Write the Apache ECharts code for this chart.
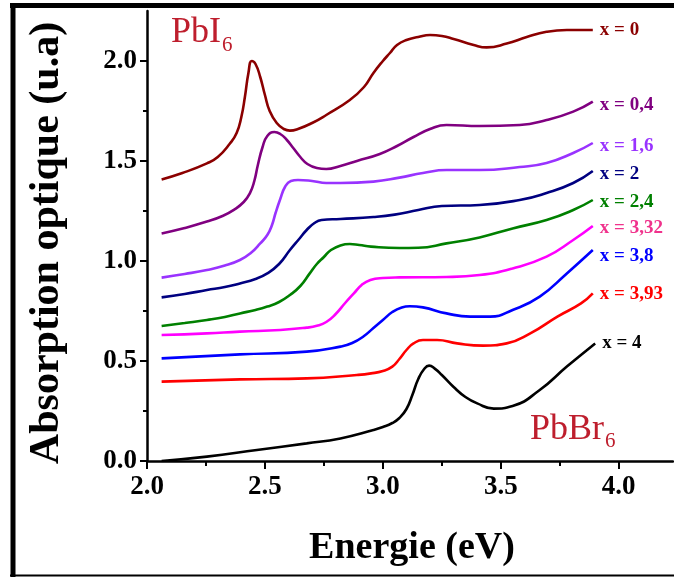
<!DOCTYPE html>
<html>
<head>
<meta charset="utf-8">
<script src="https://cdn.jsdelivr.net/npm/echarts@6/dist/echarts.min.js"></script>
<style>html,body{margin:0;padding:0;background:#fff}#c{width:674px;height:578px}</style>
</head>
<body>
<div id="c"></div>
<script>
// Series names (composition x)
const seriesNames = ['x = 0', 'x = 0,4', 'x = 1,6', 'x = 2', 'x = 2,4', 'x = 3,32', 'x = 3,8', 'x = 3,93', 'x = 4'];

// [Energie (eV), Absorption (u.a)]
const s_x0 = [[2.062,1.408],[2.15,1.44],[2.254,1.488],[2.30,1.52],[2.35,1.585],[2.38,1.64],[2.40,1.72],[2.415,1.82],[2.43,1.94],[2.444,2.0],[2.46,1.985],[2.48,1.92],[2.50,1.83],[2.52,1.75],[2.55,1.69],[2.58,1.66],[2.606,1.652],[2.64,1.66],[2.70,1.69],[2.76,1.73],[2.86,1.805],[2.92,1.87],[2.96,1.94],[3.0,2.0],[3.03,2.04],[3.06,2.08],[3.10,2.105],[3.15,2.12],[3.2,2.13],[3.25,2.125],[3.30,2.11],[3.385,2.08],[3.44,2.068],[3.525,2.087],[3.61,2.12],[3.694,2.146],[3.78,2.155],[3.89,2.155]];
const s_x04 = [[2.062,1.138],[2.16,1.165],[2.254,1.197],[2.32,1.225],[2.37,1.257],[2.41,1.295],[2.436,1.338],[2.455,1.40],[2.47,1.48],[2.49,1.57],[2.51,1.625],[2.54,1.645],[2.565,1.635],[2.593,1.605],[2.62,1.565],[2.65,1.52],[2.68,1.485],[2.72,1.465],[2.76,1.46],[2.82,1.475],[2.89,1.50],[2.987,1.535],[3.06,1.575],[3.13,1.62],[3.20,1.66],[3.27,1.68],[3.41,1.675],[3.58,1.68],[3.694,1.705],[3.807,1.747],[3.89,1.797]];
const s_x16 = [[2.062,0.917],[2.16,0.935],[2.254,0.955],[2.33,0.977],[2.394,1.005],[2.44,1.04],[2.48,1.088],[2.51,1.13],[2.53,1.18],[2.545,1.24],[2.565,1.31],[2.585,1.37],[2.61,1.40],[2.64,1.405],[2.70,1.40],[2.76,1.39],[2.82,1.39],[2.96,1.397],[3.07,1.417],[3.17,1.44],[3.27,1.455],[3.41,1.455],[3.58,1.47],[3.694,1.49],[3.807,1.54],[3.89,1.59]];
const s_x2 = [[2.062,0.818],[2.16,0.835],[2.254,0.855],[2.33,0.87],[2.394,0.888],[2.46,0.91],[2.51,0.938],[2.56,0.985],[2.606,1.055],[2.645,1.11],[2.677,1.155],[2.71,1.19],[2.74,1.205],[2.82,1.21],[2.96,1.22],[3.05,1.232],[3.15,1.255],[3.25,1.275],[3.41,1.28],[3.58,1.305],[3.694,1.34],[3.807,1.39],[3.89,1.45]];
const s_x24 = [[2.062,0.675],[2.16,0.69],[2.254,0.705],[2.33,0.72],[2.394,0.738],[2.46,0.755],[2.51,0.772],[2.56,0.795],[2.606,0.83],[2.65,0.875],[2.69,0.938],[2.72,0.985],[2.75,1.02],[2.78,1.055],[2.82,1.078],[2.86,1.085],[2.90,1.08],[2.95,1.072],[3.07,1.065],[3.15,1.066],[3.27,1.088],[3.41,1.118],[3.55,1.163],[3.694,1.205],[3.807,1.255],[3.89,1.305]];
const s_x332 = [[2.062,0.63],[2.254,0.638],[2.394,0.647],[2.565,0.655],[2.677,0.667],[2.72,0.676],[2.76,0.695],[2.80,0.735],[2.84,0.79],[2.877,0.838],[2.91,0.88],[2.947,0.905],[3.0,0.915],[3.07,0.918],[3.27,0.92],[3.41,0.93],[3.55,0.963],[3.694,1.022],[3.807,1.105],[3.89,1.175]];
const s_x38 = [[2.062,0.513],[2.394,0.533],[2.677,0.547],[2.82,0.572],[2.87,0.59],[2.92,0.625],[2.96,0.665],[3.0,0.705],[3.04,0.745],[3.08,0.768],[3.114,0.774],[3.17,0.768],[3.27,0.738],[3.37,0.722],[3.455,0.722],[3.55,0.755],[3.665,0.822],[3.78,0.938],[3.89,1.055]];
const s_x393 = [[2.062,0.397],[2.394,0.408],[2.677,0.413],[2.89,0.43],[2.95,0.438],[3.0,0.45],[3.04,0.472],[3.07,0.51],[3.10,0.555],[3.13,0.588],[3.17,0.605],[3.23,0.605],[3.315,0.588],[3.425,0.577],[3.525,0.588],[3.625,0.638],[3.74,0.722],[3.84,0.788],[3.89,0.838]];
const s_x4 = [[2.062,0.0],[2.254,0.022],[2.466,0.055],[2.677,0.088],[2.82,0.113],[2.96,0.155],[3.0,0.17],[3.04,0.19],[3.07,0.215],[3.10,0.26],[3.125,0.33],[3.15,0.41],[3.175,0.46],[3.196,0.477],[3.22,0.462],[3.25,0.43],[3.30,0.37],[3.35,0.32],[3.40,0.288],[3.47,0.262],[3.55,0.275],[3.665,0.355],[3.78,0.472],[3.90,0.588]];

const xMajorTicks = [2.0, 2.5, 3.0, 3.5, 4.0];
const xMinorTicks = [2.25, 2.75, 3.25, 3.75];
const yMajorTicks = [0.0, 0.5, 1.0, 1.5, 2.0];
const yMinorTicks = [0.25, 0.75, 1.25, 1.75];

const allData = [s_x0, s_x04, s_x16, s_x2, s_x24, s_x332, s_x38, s_x393, s_x4];
const lineColors = ['#8B0000', '#800080', '#9933FF', '#000080', '#008000', '#FF00FF', '#0000FF', '#FF0000', '#000000'];
const labelColors = ['#8B0000', '#800080', '#9933FF', '#000080', '#008000', '#F0328C', '#0000FF', '#FF0000', '#000000'];
const labelOffsetY = [0, 3, 3, 3, 2, 2, 6, 1, 0];

const SERIF = '"Liberation Serif", "Times New Roman", serif';
const chart = echarts.init(document.getElementById('c'));

const axisCommon = {
  type: 'value', min: 2.0, max: 4.23, interval: 0.5, gridIndex: 0, position: 'bottom',
  splitLine: { show: false }
};
const yCommon = {
  type: 'value', min: 0, max: 2.25, interval: 0.5, gridIndex: 0, position: 'left',
  splitLine: { show: false }
};

const option = {
  animation: false,
  backgroundColor: '#fff',
  grid: { left: 147, right: 1, top: 11, bottom: 117, containLabel: false },
  xAxis: [
    Object.assign({}, axisCommon, {
      axisLine: { show: true, onZero: false, lineStyle: { color: '#000', width: 2.5 } },
      axisTick: { show: true, customValues: xMajorTicks, length: 8, lineStyle: { color: '#000', width: 2 } },
      axisLabel: { show: true, customValues: xMajorTicks, margin: 13, color: '#000', fontFamily: SERIF, fontWeight: 'bold', fontSize: 27,
        formatter: v => v.toFixed(1) }
    }),
    Object.assign({}, axisCommon, {
      axisLine: { show: false },
      axisTick: { show: true, customValues: xMinorTicks, length: 5, lineStyle: { color: '#000', width: 2 } },
      axisLabel: { show: false }
    })
  ],
  yAxis: [
    Object.assign({}, yCommon, {
      axisLine: { show: true, onZero: false, lineStyle: { color: '#000', width: 2.5 } },
      axisTick: { show: true, customValues: yMajorTicks, length: 7, lineStyle: { color: '#000', width: 2 } },
      axisLabel: { show: true, customValues: yMajorTicks, margin: 10, color: '#000', fontFamily: SERIF, fontWeight: 'bold', fontSize: 27,
        formatter: v => v.toFixed(1) }
    }),
    Object.assign({}, yCommon, {
      axisLine: { show: false },
      axisTick: { show: true, customValues: yMinorTicks, length: 4, lineStyle: { color: '#000', width: 2 } },
      axisLabel: { show: false }
    })
  ],
  series: allData.map((d, i) => ({
    type: 'line',
    name: seriesNames[i],
    xAxisIndex: 0, yAxisIndex: 0,
    data: d,
    smooth: 0.5,
    showSymbol: false,
    symbol: 'none',
    lineStyle: { color: lineColors[i], width: 2.6 },
    itemStyle: { color: lineColors[i] },
    endLabel: {
      show: true, formatter: p => p.seriesName, distance: 7, offset: [0, labelOffsetY[i]],
      color: labelColors[i], fontFamily: SERIF, fontWeight: 'bold', fontSize: 19
    },
    emphasis: { disabled: true }
  })),
  graphic: [
    // frame
    { type: 'line', shape: { x1: 10, y1: 5.5, x2: 674, y2: 5.5 }, style: { stroke: '#000', lineWidth: 5 }, silent: true },
    { type: 'line', shape: { x1: 13, y1: 3, x2: 13, y2: 577 }, style: { stroke: '#000', lineWidth: 5 }, silent: true },
    { type: 'line', shape: { x1: 10, y1: 575.5, x2: 674, y2: 575.5 }, style: { stroke: '#000', lineWidth: 2 }, silent: true },
    // axis titles
    { type: 'text', x: 47, y: 243, rotation: Math.PI / 2, silent: true,
      style: { text: 'Absorption optique (u.a)', font: 'bold 42px ' + SERIF, fill: '#000', align: 'center', verticalAlign: 'middle' } },
    { type: 'text', x: 412, y: 548, silent: true,
      style: { text: 'Energie (eV)', font: 'bold 38px ' + SERIF, fill: '#000', align: 'center', verticalAlign: 'middle' } },
    // annotations
    { type: 'text', x: 171, y: 33, silent: true,
      style: { text: 'PbI', font: '36px ' + SERIF, fill: '#BE1E2D', align: 'left', verticalAlign: 'middle' } },
    { type: 'text', x: 222, y: 45, silent: true,
      style: { text: '6', font: '21px ' + SERIF, fill: '#BE1E2D', align: 'left', verticalAlign: 'middle' } },
    { type: 'text', x: 530, y: 430, silent: true,
      style: { text: 'PbBr', font: '36px ' + SERIF, fill: '#BE1E2D', align: 'left', verticalAlign: 'middle' } },
    { type: 'text', x: 605, y: 441, silent: true,
      style: { text: '6', font: '21px ' + SERIF, fill: '#BE1E2D', align: 'left', verticalAlign: 'middle' } }
  ]
};
chart.setOption(option);
</script>
</body>
</html>
